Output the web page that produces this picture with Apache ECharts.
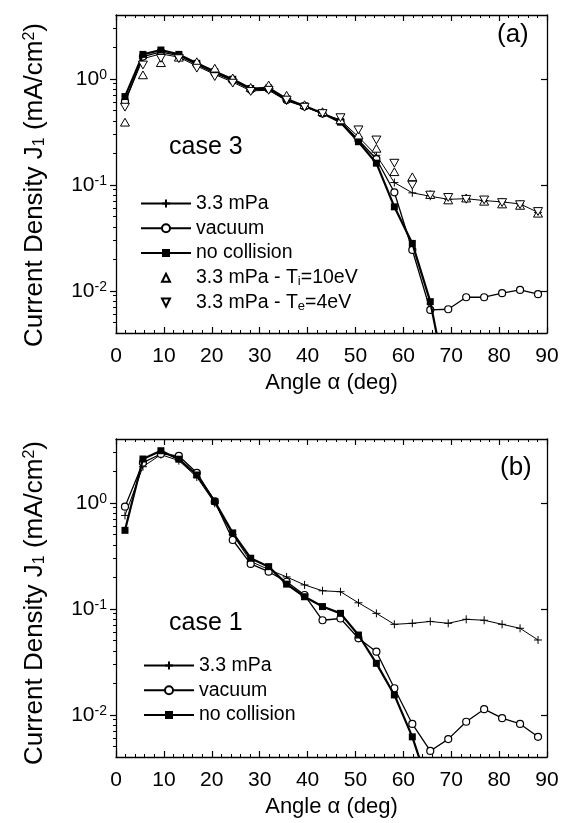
<!DOCTYPE html>
<html><head><meta charset="utf-8">
<script src="https://cdn.jsdelivr.net/npm/echarts@6/dist/echarts.min.js"></script>
<style>html,body{margin:0;padding:0;background:#fff}#c{width:566px;height:823px}</style>
</head><body><div id="c"></div>
<script>
// Angle bins (deg)
const angles = [1.875, 5.625, 9.375, 13.125, 16.875, 20.625, 24.375, 28.125, 31.875, 35.625, 39.375, 43.125,
                46.875, 50.625, 54.375, 58.125, 61.875, 65.625, 69.375, 73.125, 76.875, 80.625, 84.375, 88.125];
// (a) case 3
const p33A  = [0.60, 1.55, 1.72, 1.60, 1.32, 1.10, 0.93, 0.77, 0.78, 0.62, 0.545, 0.47, 0.41, 0.283, 0.19, 0.105, 0.084, 0.078, 0.073, 0.074, 0.071, 0.069, 0.066, 0.055];
const vacA  = [0.61, 1.62, 1.80, 1.65, 1.36, 1.13, 0.96, 0.79, 0.80, 0.63, 0.55, 0.47, 0.40, 0.265, 0.175, 0.085, 0.0243, 0.0066, 0.0067, 0.0087, 0.0087, 0.0095, 0.0102, 0.0093];
const noColA = [0.68, 1.70, 1.87, 1.70, 1.40, 1.17, 0.99, 0.81, 0.82, 0.645, 0.555, 0.473, 0.39, 0.255, 0.160, 0.062, 0.028, 0.0079, 0.0011, null, null, null, null, null];
const tiA   = [0.39, 1.09, 1.42, 1.60, 1.45, 1.26, 1.02, 0.83, 0.875, 0.70, 0.57, 0.49, 0.41, 0.295, 0.221, 0.133, 0.119, 0.081, 0.072, 0.075, 0.070, 0.066, 0.064, 0.054];
const teA   = [0.54, 1.35, 1.56, 1.55, 1.26, 1.05, 0.91, 0.76, 0.78, 0.63, 0.54, 0.47, 0.43, 0.33, 0.265, 0.16, 0.0995, 0.08, 0.076, 0.073, 0.072, 0.068, 0.065, 0.056];
// (b) case 1
const p33B  = [0.76, 2.19, 2.85, 2.50, 1.75, 0.99, 0.50, 0.28, 0.235, 0.20, 0.168, 0.148, 0.145, 0.114, 0.0906, 0.0714, 0.073, 0.076, 0.073, 0.0796, 0.078, 0.0714, 0.0655, 0.0508];
const vacB  = [0.92, 2.39, 2.89, 2.77, 1.92, 1.03, 0.446, 0.265, 0.224, 0.18, 0.135, 0.078, 0.081, 0.0527, 0.0394, 0.0178, 0.0082, 0.00456, 0.0059, 0.0086, 0.0113, 0.0093, 0.0082, 0.0062];
const noColB = [0.55, 2.59, 3.10, 2.58, 1.83, 1.03, 0.52, 0.30, 0.25, 0.171, 0.130, 0.105, 0.0906, 0.0566, 0.0306, 0.0154, 0.0062, 0.0019, null, null, null, null, null, null];
// Axis ticks
const xTicks = [0, 10, 20, 30, 40, 50, 60, 70, 80, 90];
const yMajor = [0.01, 0.1, 1];
const yMinor = [0.005, 0.006, 0.007, 0.008, 0.009, 0.02, 0.03, 0.04, 0.05, 0.06, 0.07, 0.08, 0.09,
                0.2, 0.3, 0.4, 0.5, 0.6, 0.7, 0.8, 0.9, 2, 3];
const legendA = ['3.3 mPa', 'vacuum', 'no collision', '3.3 mPa - Ti=10eV', '3.3 mPa - Te=4eV'];
const legendB = ['3.3 mPa', 'vacuum', 'no collision'];

const FONT = 'Liberation Sans';
const pairs = v => angles.map((a, i) => [a, v[i]]);
const black = '#000';

function xAxes(gi) {
  const base = {
    type: 'value', gridIndex: gi, min: 0, max: 90, interval: 10,
    axisLine: {show: true, onZero: false, lineStyle: {color: black, width: 1.3}},
    axisTick: {show: true, inside: true, length: 6, lineStyle: {color: black, width: 1.2}},
    minorTick: {show: true, splitNumber: 5, length: 3, lineStyle: {color: black, width: 1}},
    splitLine: {show: false}
  };
  return [
    Object.assign({}, base, {
      position: 'bottom',
      axisLabel: {show: true, fontSize: 21, fontFamily: FONT, color: black, margin: 13},
      name: 'Angle α (deg)', nameLocation: 'middle', nameGap: 39,
      nameTextStyle: {fontSize: 22, fontFamily: FONT, color: black}
    }),
    Object.assign({}, base, {position: 'top', axisLabel: {show: false}})
  ];
}
function yAxes(gi, shift) {
  const base = {
    type: 'log', logBase: 10, gridIndex: gi, min: 0.004, max: 4,
    splitLine: {show: false}, minorTick: {show: false},
    axisLine: {show: true, onZero: false, lineStyle: {color: black, width: 1.3}}
  };
  return [
    Object.assign({}, base, {
      position: 'left',
      axisTick: {show: true, inside: false, length: 6, customValues: yMajor, lineStyle: {color: black, width: 1.2}},
      axisLabel: {
        show: true, customValues: yMajor, margin: 9,
        formatter: v => {
          const e = Math.log10(v);
          if (Math.abs(e - Math.round(e)) > 1e-6) return '';
          return '{b|10}{s|' + Math.round(e) + '}';
        },
        rich: {
          b: {fontSize: 21, fontFamily: FONT, color: black},
          s: {fontSize: 14, fontFamily: FONT, color: black, verticalAlign: 'top'}
        }
      },
      name: 'Current Density J{sub|1} (mA/cm{sup|2})',
      nameLocation: 'middle', nameGap: 68, nameRotate: 90,
      nameTextStyle: {
        fontSize: 26, fontFamily: FONT, color: black, padding: [0, shift, 0, 0],
        rich: {
          sub: {fontSize: 16, fontFamily: FONT, color: black, verticalAlign: 'bottom'},
          sup: {fontSize: 16, fontFamily: FONT, color: black, verticalAlign: 'top'}
        }
      }
    }),
    Object.assign({}, base, {
      position: 'left', axisLine: {show: false},
      axisTick: {show: true, inside: false, length: 3, customValues: yMinor, lineStyle: {color: black, width: 1}},
      axisLabel: {show: false}
    }),
    Object.assign({}, base, {
      position: 'right',
      axisTick: {show: true, inside: true, length: 6, customValues: yMajor, lineStyle: {color: black, width: 1.2}},
      axisLabel: {show: false}
    }),
    Object.assign({}, base, {
      position: 'right', axisLine: {show: false},
      axisTick: {show: true, inside: true, length: 3, customValues: yMinor, lineStyle: {color: black, width: 1}},
      axisLabel: {show: false}
    })
  ];
}

const SYM_PLUS = 'path://M0,-5L0,5M-5,0L5,0';
const SYM_UP = 'path://M0,-1L0.866,0.5L-0.866,0.5Z';
const SYM_DOWN = 'path://M-0.866,-0.5L0.866,-0.5L0,1Z';

function lineSeries(name, vals, xi, yi, kind) {
  const s = {
    name, type: 'line', data: pairs(vals), xAxisIndex: xi, yAxisIndex: yi,
    showSymbol: true, showAllSymbol: true, connectNulls: false, clip: true, animation: false,
    emphasis: {disabled: true}
  };
  if (kind === 'plus') {
    Object.assign(s, {symbol: SYM_PLUS, symbolSize: 8, z: 3,
      lineStyle: {color: black, width: 1},
      itemStyle: {color: black, borderColor: black, borderWidth: 1}});
  } else if (kind === 'circle') {
    Object.assign(s, {symbol: 'circle', symbolSize: 7, z: 4,
      lineStyle: {color: black, width: 1.3},
      itemStyle: {color: '#fff', borderColor: black, borderWidth: 1.2}});
  } else if (kind === 'square') {
    Object.assign(s, {symbol: 'rect', symbolSize: 7, z: 5,
      lineStyle: {color: black, width: 2.2},
      itemStyle: {color: black, borderColor: black, borderWidth: 0}});
  } else {
    Object.assign(s, {symbol: kind === 'up' ? SYM_UP : SYM_DOWN, symbolSize: 9, symbolKeepAspect: true, z: 6,
      lineStyle: {color: black, width: 1, opacity: 0},
      itemStyle: {color: '#fff', borderColor: black, borderWidth: 1}});
  }
  return s;
}

const legendFmt = n => n.replace('Ti=', 'T{sub|i}=').replace('Te=', 'T{sub|e}=');
function legend(data, left, top, gap) {
  return {
    data, orient: 'vertical', left, top, itemWidth: 50, itemHeight: 10, itemGap: gap,
    selectedMode: false,
    formatter: legendFmt,
    textStyle: {fontSize: 19.5, fontFamily: FONT, color: black,
      rich: {sub: {fontSize: 13, fontFamily: FONT, color: black, verticalAlign: 'bottom'}}}
  };
}

const chart = echarts.init(document.getElementById('c'), null, {renderer: 'canvas'});
chart.setOption({
  animation: false,
  backgroundColor: '#fff',
  grid: [
    {left: 116, top: 15, width: 431, height: 318},
    {left: 116, top: 439, width: 431, height: 318}
  ],
  xAxis: [...xAxes(0), ...xAxes(1)],
  yAxis: [...yAxes(0, 22), ...yAxes(1, 10)],
  legend: [legend(legendA, 135, 188.5, 4.75), legend(legendB, 138, 650.5, 4.75)],
  series: [
    lineSeries('3.3 mPa', p33A, 0, 0, 'plus'),
    lineSeries('vacuum', vacA, 0, 0, 'circle'),
    lineSeries('no collision', noColA, 0, 0, 'square'),
    lineSeries('3.3 mPa - Ti=10eV', tiA, 0, 0, 'up'),
    lineSeries('3.3 mPa - Te=4eV', teA, 0, 0, 'down'),
    lineSeries('3.3 mPa', p33B, 2, 4, 'plus'),
    lineSeries('vacuum', vacB, 2, 4, 'circle'),
    lineSeries('no collision', noColB, 2, 4, 'square')
  ],
  graphic: [
    {type: 'text', style: {x: 169, y: 147, text: 'case 3', fontSize: 25, fontFamily: FONT, fill: black, verticalAlign: 'middle'}},
    {type: 'text', style: {x: 497, y: 35, text: '(a)', fontSize: 26, fontFamily: FONT, fill: black, verticalAlign: 'middle'}},
    {type: 'text', style: {x: 169, y: 623, text: 'case 1', fontSize: 25, fontFamily: FONT, fill: black, verticalAlign: 'middle'}},
    {type: 'text', style: {x: 500, y: 468, text: '(b)', fontSize: 26, fontFamily: FONT, fill: black, verticalAlign: 'middle'}}
  ]
});
</script></body></html>
